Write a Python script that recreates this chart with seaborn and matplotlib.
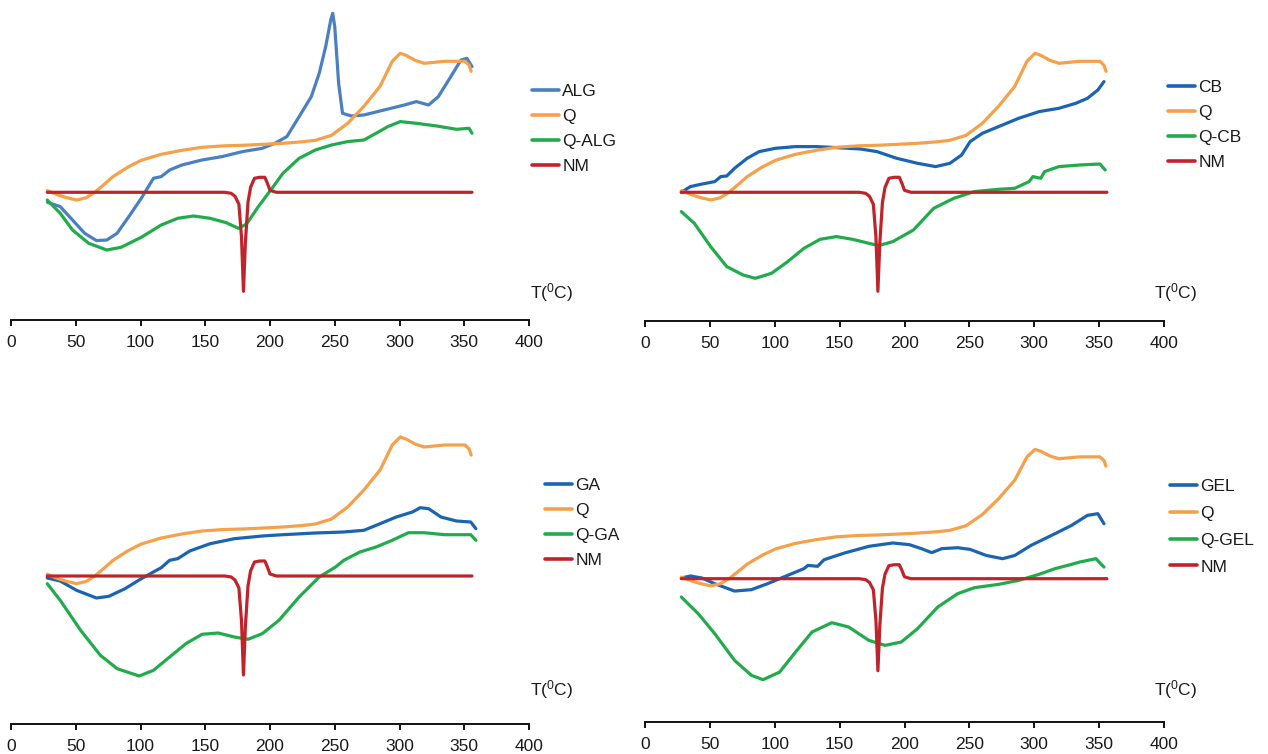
import matplotlib
matplotlib.use("Agg")
import matplotlib.pyplot as plt
from matplotlib.lines import Line2D
import numpy as np
import pandas as pd
import seaborn as sns

# ---- DSC traces (temperature in degC, heat flow in arbitrary units, endo down) ----
# Nimodipine (NM), shared by all panels
NM_T = [28, 100, 165, 170, 173, 176, 178, 179.5, 181, 183, 185, 188, 192, 196, 198, 200, 205, 250, 356]
NM_HF = [0, 0, 0, -1, -4, -12, -45, -99, -50, -10, 5, 14, 15, 15, 9, 2, 0, 0, 0]

# Carrier Q, shared by all panels
Q_T = [28, 35, 42, 50.6, 58, 64.7, 72, 78.8, 90, 100.6, 116, 132, 147.5, 165, 178.8, 195, 210,
       225, 235, 247.5, 260, 272.5, 285, 294.4, 300.6, 305, 312, 319, 335, 350.6, 353.75, 355.3]
Q_HF = [1.7, -2, -5, -7.7, -5.5, 0, 8, 15.7, 25, 32, 38, 42, 45, 46.5, 47, 48, 49,
        50.5, 52, 57, 69, 86, 106, 131, 139, 137, 132, 129, 131, 131, 127, 121]

# Alginate
ALG_T = [28.1, 38, 47.5, 56.9, 66, 74, 81.9, 91, 100.6, 110, 116, 122.5, 132, 147.5, 163, 178.8,
         194, 203.8, 213, 222.5, 231.9, 238, 243, 246.9, 248.4, 250, 253, 256, 263, 272.5, 288,
         303.75, 313, 322.5, 330, 338, 347.5, 352, 356]
ALG_HF = [-10, -14.3, -27.7, -41, -48.3, -47.7, -41, -24.3, -6, 14, 15.7, 22.3, 27.3, 32.3, 35.7, 40.7,
          44, 49, 55.7, 75.7, 95.7, 119, 145.7, 172.3, 179, 165.7, 109, 79, 76.3, 77.3, 82.3,
          87.3, 90.7, 87.3, 95.7, 112.3, 132.3, 134, 125.7]
Q_ALG_T = [28, 38, 47.5, 60, 74, 85, 100.6, 116, 128.75, 141, 153.75, 166, 175.6, 181.9, 191, 200.6,
           210, 222.5, 235, 247.5, 260, 272.5, 281.9, 291, 300.6, 313, 328.75, 344, 353.75, 356]
Q_ALG_HF = [-7.7, -21, -37.7, -51, -57.7, -55, -45, -32.7, -26, -23.7, -26, -30.3, -36, -31.7, -14.3, 2.3,
            19, 34, 42.3, 47.3, 50.7, 52.3, 59, 65.7, 70.7, 69, 66.3, 63, 64, 59]

# Carbopol
CB_T = [28, 35, 44, 53.75, 58.4, 63, 69, 78.75, 88, 100.6, 116, 132, 147.5, 166, 178.75, 194, 210,
        224, 235, 244, 250.6, 260, 272.5, 288, 303.75, 319, 332, 341, 349, 353.75]
CB_HF = [0, 5.7, 8.3, 10.7, 15.7, 16.3, 24, 34, 40.7, 44, 45.7, 45.7, 44.7, 43.3, 40.7, 34, 29,
         25.7, 29, 37.3, 50.7, 59, 65.7, 74, 80.7, 84, 89, 94, 102.3, 110.7]
Q_CB_T = [28, 38, 50.6, 63, 75.6, 85, 97.5, 110, 122.5, 135, 147.5, 160, 172.5, 180, 191, 206.9,
          222.5, 238, 253.75, 272.5, 285, 296, 299, 305, 308, 319, 335, 350.6, 354.7]
Q_CB_HF = [-19.3, -31, -54.3, -74.3, -82.7, -86, -81, -69.3, -56, -47, -44.3, -47, -51, -53.3, -49.3, -37.7,
           -16, -6, 0.7, 3, 4, 10.7, 15.7, 14, 20.7, 25.7, 27.3, 28.3, 22.3]

# Gum arabic
GA_T = [28, 38, 50.6, 66, 75.6, 88, 100.6, 116, 122.5, 128.75, 138, 153.75, 172.5, 194, 210, 235,
        256.9, 272.5, 285, 297.5, 310, 316, 322.5, 332, 344, 355, 359]
GA_HF = [-2, -5, -14.3, -22, -20.3, -12.7, -2.7, 8.3, 15.7, 17.3, 25, 32.3, 37.3, 40, 41.3, 43,
         44, 45.7, 52.3, 59, 64, 68.3, 67.3, 59, 55, 54, 47.3]
Q_GA_T = [28, 38, 53.75, 69, 82, 99, 110, 122.5, 135, 147.5, 160, 172.5, 183, 194, 206.9, 222.5,
          238, 250.6, 257, 269.4, 281.9, 294.4, 306.9, 319, 335, 355, 359]
Q_GA_HF = [-7.7, -24.3, -54.3, -79.3, -92.7, -100, -94.3, -81, -67.7, -58.3, -57, -61, -63.3, -57.7, -44.3, -21,
           -1, 9, 15.7, 24, 29, 35.7, 43.3, 43.3, 41.3, 41.3, 35.7]

# Gelatin
GEL_T = [28, 35, 44, 53.75, 69, 82, 94.4, 110, 122.5, 125.6, 133, 138, 153.75, 172.5, 191, 203.75,
         213, 221, 228.75, 241, 250.6, 263, 275.6, 285, 297.5, 316, 328.75, 341, 349, 353.75]
GEL_HF = [0.7, 2.9, 0.7, -5.4, -13.3, -11.8, -5.4, 3.6, 10.8, 14.3, 13.3, 20.4, 27.6, 34.8, 38.4, 36.6,
          32.3, 28, 32.3, 33.3, 31.5, 25, 21.5, 25, 35.8, 48.4, 57.3, 68.1, 69.9, 59.1]
Q_GEL_T = [28, 41, 53.75, 69, 82, 91, 103.75, 116, 128.75, 144, 157, 172.5, 185, 197.5, 210, 225.6,
           241, 253.75, 272.5, 288, 303.75, 316, 328.75, 335, 347.5, 353.75]
Q_GEL_HF = [-19.7, -37.6, -59.1, -87.8, -103.9, -108.6, -100.4, -78.9, -57.3, -47.3, -52, -66.3, -71.7, -68.1, -53.8, -30.5,
            -16.1, -9.7, -6.1, -1.8, 4.7, 10.8, 15.4, 17.9, 21.5, 12.5]

X_TICKS = [0, 50, 100, 150, 200, 250, 300, 350, 400]
X_LABEL = r"T($\mathregular{^0}$C)"

# ---- styling ----
sns.set_theme(style="white")
plt.rcParams["font.family"] = ["Liberation Sans", "DejaVu Sans"]
plt.rcParams["mathtext.fontset"] = "custom"
plt.rcParams["mathtext.rm"] = "Liberation Sans"

W, H = 1268, 754
FS = 12.5
C_BLUE_LIGHT = "#4a80c2"
C_BLUE = "#1a64b2"
C_ORANGE = "#f6a04a"
C_GREEN = "#22ab4c"
C_RED = "#c1232b"

fig = plt.figure(figsize=(W / 100, H / 100), dpi=100)
fig.patch.set_facecolor("white")


def px_box(x0, y0, x1, y1):
    return [x0 / W, 1 - y1 / H, (x1 - x0) / W, (y1 - y0) / H]


panels = [
    dict(name="ALG", t=ALG_T, hf=ALG_HF, qt=Q_ALG_T, qhf=Q_ALG_HF, color=C_BLUE_LIGHT,
         box=(11, 2, 529, 320), ylim=(-127.7, 190.3), leg=(532, 84), spacing=0.56, lab=(530, 293)),
    dict(name="CB", t=CB_T, hf=CB_HF, qt=Q_CB_T, qhf=Q_CB_HF, color=C_BLUE,
         box=(645, 2, 1164, 320.7), ylim=(-128.4, 190.3), leg=(1168, 80), spacing=0.57, lab=(1154, 293)),
    dict(name="GA", t=GA_T, hf=GA_HF, qt=Q_GA_T, qhf=Q_GA_HF, color=C_BLUE,
         box=(11, 386, 529, 724), ylim=(-148, 190), leg=(545, 478), spacing=0.56, lab=(530, 690)),
    dict(name="GEL", t=GEL_T, hf=GEL_HF, qt=Q_GEL_T, qhf=Q_GEL_HF, color=C_BLUE,
         box=(645, 386, 1164, 722), ylim=(-154.1, 207.2), leg=(1170, 479), spacing=0.67, lab=(1154, 690)),
]

for p in panels:
    ax = fig.add_axes(px_box(*p["box"]))
    comp = "Q-" + p["name"]
    order = [p["name"], "Q", comp, "NM"]
    palette = {p["name"]: p["color"], "Q": C_ORANGE, comp: C_GREEN, "NM": C_RED}
    df = pd.concat([
        pd.DataFrame({"T": p["t"], "HF": p["hf"], "sample": p["name"]}),
        pd.DataFrame({"T": Q_T, "HF": Q_HF, "sample": "Q"}),
        pd.DataFrame({"T": p["qt"], "HF": p["qhf"], "sample": comp}),
        pd.DataFrame({"T": NM_T, "HF": NM_HF, "sample": "NM"}),
    ], ignore_index=True)
    sns.lineplot(data=df, x="T", y="HF", hue="sample", hue_order=order, palette=palette,
                 estimator=None, sort=False, linewidth=2.3, legend=False, ax=ax)
    for ln in ax.get_lines():
        ln.set_solid_joinstyle("round")
        ln.set_solid_capstyle("round")

    ax.set_xlim(0, 400)
    ax.set_ylim(*p["ylim"])
    ax.set_xticks(X_TICKS)
    ax.set_xticklabels([str(v) for v in X_TICKS], fontsize=FS, color="#1a1a1a")
    ax.set_yticks([])
    ax.set_xlabel("")
    ax.set_ylabel("")
    ax.set_facecolor("none")
    for side in ("top", "left", "right"):
        ax.spines[side].set_visible(False)
    ax.spines["bottom"].set_color("#111111")
    ax.spines["bottom"].set_linewidth(1.4)
    ax.tick_params(axis="x", direction="out", length=4, width=1.4, color="#111111",
                   pad=7, bottom=True)

    handles = [Line2D([0], [0], color=palette[k], lw=2.6) for k in order]
    lx, ly = p["leg"]
    ax.legend(handles, order, loc="upper left", bbox_to_anchor=(lx / W, 1 - ly / H),
              bbox_transform=fig.transFigure, frameon=False, borderpad=0, borderaxespad=0,
              handlelength=1.55, handletextpad=0.2, labelspacing=p["spacing"], fontsize=FS,
              labelcolor="#1a1a1a")

    tx, ty = p["lab"]
    fig.text(tx / W, 1 - ty / H, X_LABEL, fontsize=FS, color="#1a1a1a", ha="left", va="center")

fig.savefig("out.png", dpi=100, facecolor="white")
